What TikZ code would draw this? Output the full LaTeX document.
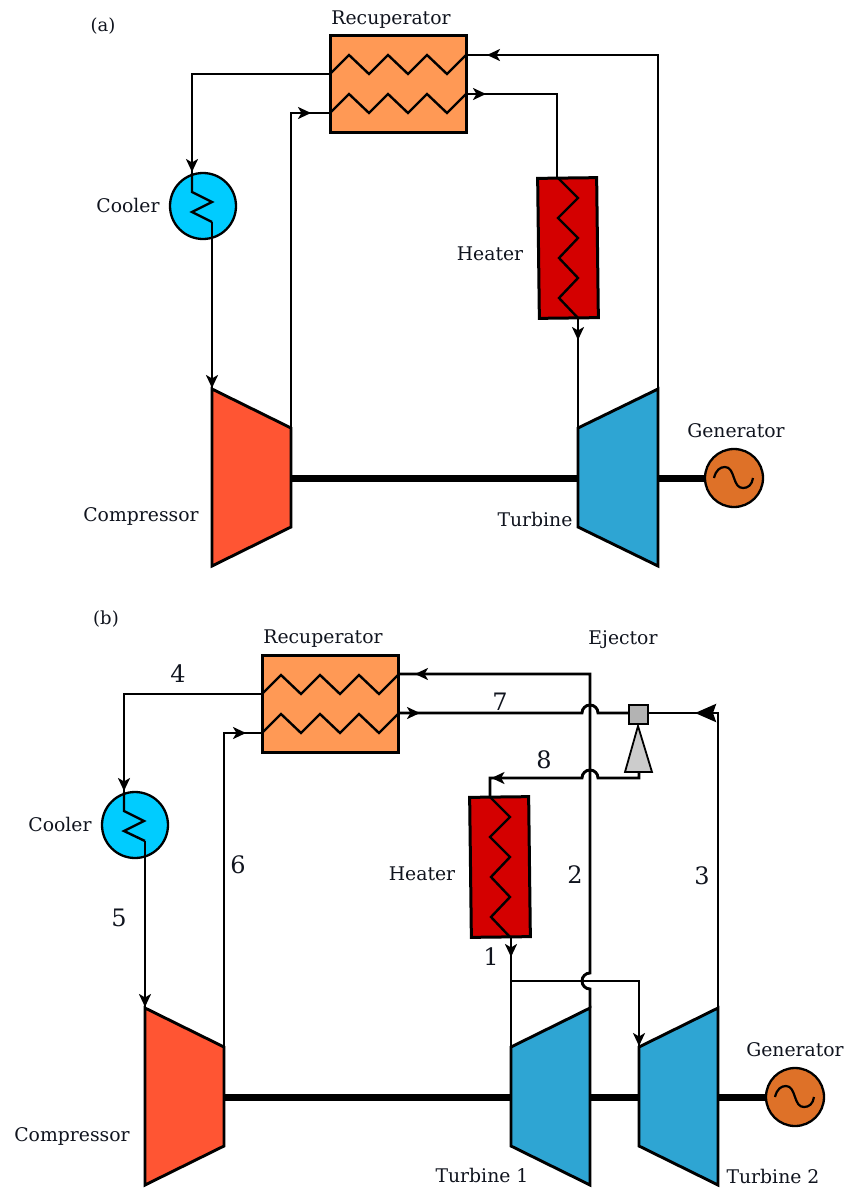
\documentclass[tikz,border=0pt]{standalone}
\usepackage{fontspec}
\setmainfont{DejaVu Serif}
\usetikzlibrary{arrows.meta,decorations.markings}
\definecolor{recup}{HTML}{FF9955}
\definecolor{heat}{HTML}{D40000}
\definecolor{cool}{HTML}{00CCFF}
\definecolor{comp}{HTML}{FF5533}
\definecolor{turb}{HTML}{2EA5D3}
\definecolor{gen}{HTML}{DE7128}
\definecolor{ejsq}{HTML}{B3B3B3}
\definecolor{ejtr}{HTML}{CCCCCC}
\definecolor{ink}{HTML}{10141E}
\tikzset{
 x=1pt,y=-1pt,
 lbl/.style={font=\fontsize{18.8}{20}\selectfont,inner sep=0pt,text=ink},
 tag/.style={font=\fontsize{18}{20}\selectfont,inner sep=0pt,text=ink},
 num/.style={font=\fontsize{24}{26}\selectfont,inner sep=0pt,text=ink},
 wire/.style={line width=2.9pt,line join=miter},
 box/.style={draw=black,line width=3pt,inner sep=0pt,outer sep=0pt,rectangle},
 recupbox/.style={box,fill=recup,minimum width=136pt,minimum height=97pt},
 heatbox/.style={box,fill=heat,minimum width=59pt,minimum height=140pt,rotate=0.7},
 coolc/.style={circle,draw=black,line width=2.3pt,fill=cool,minimum size=66pt,inner sep=0pt,outer sep=0pt},
 genc/.style={circle,draw=black,line width=2.3pt,fill=gen,minimum size=58pt,inner sep=0pt,outer sep=0pt},
 machine/.style={draw=black,line width=2.9pt,line join=miter},
 shaft/.style={line width=7pt},
 marr/.style={postaction={decorate},decoration={markings,mark=at position #1 with {\arrow{Stealth[length=13pt,width=12pt,inset=3.5pt]}}}},
 bigarr/.style={postaction={decorate},decoration={markings,mark=at position #1 with {\arrow{Stealth[length=21pt,width=18pt,inset=3pt]}}}},
 zig/.style={line width=2.4pt,line join=miter},
 ejsqb/.style={draw=black,line width=1.5pt,fill=ejsq,minimum size=19pt,inner sep=0pt,outer sep=0pt},
 wave/.style={line width=2.2pt},
}
% recuperator zigzags, #1 = left x, #2 = top y
\newcommand{\recupzig}[2]{%
 \foreach \yy in {39,78}{%
  \draw[zig] (#1,#2+\yy) -- ++(19,-19) -- ++(20,19) -- ++(19,-19) -- ++(20,19) -- ++(19,-19) -- ++(20,19) -- ++(19,-19);}}
% heater zigzag, #1 = left x, #2 = top y
\newcommand{\heatzig}[2]{%
 \draw[zig] (#1+20,#2) -- (#1+40,#2+20) -- (#1+20,#2+40) -- (#1+40,#2+60) -- (#1+21,#2+80) -- (#1+40,#2+100) -- (#1+21,#2+120) -- (#1+40,#2+140);}
% generator sine wave inside node #1
\newcommand{\genwave}[1]{%
 \begin{scope}[shift={(#1.center)}]
 \draw[wave] (-20,0) .. controls (-18,-8) and (-14,-11) .. (-9,-11) .. controls (-4,-11) and (-2,-6) .. (0,0) .. controls (2,6) and (4,10) .. (9,10) .. controls (14,10) and (18,7) .. (19,0);
 \end{scope}}
\begin{document}
\begin{tikzpicture}
\useasboundingbox (0,0) rectangle (850,1189);
% ---------- panel a ----------
\node[tag] (la) at (103,26) {(a)};
\coordinate (aRecHotIn) at (466,55);
\coordinate (aRecHotOut) at (330,74);
\coordinate (aRecColdIn) at (330,113);
\coordinate (aRecColdOut) at (466,94);
\coordinate (aHeatIn) at (557,178);
\coordinate (aHeatOut) at (578,318);
\coordinate (aCoolIn) at (192,173);
\coordinate (aCoolOut) at (212,222);
\coordinate (aCompIn) at (212,389);
\coordinate (aCompOut) at (291,428);
\coordinate (aTurbIn) at (578,428);
\coordinate (aTurbOut) at (658,389);
\coordinate (aCompS) at (291,478);
\coordinate (aTurbL) at (578,478);
\coordinate (aTurbR) at (658,478);
\node[recupbox] (ra) at (398,83.5) {};
\recupzig{330}{35}
\node[lbl] (tra) at (391,19.5) {Recuperator};
\node[heatbox] (ha) at (568,248) {};
\heatzig{538}{178}
\node[lbl] (tha) at (490,254) {Heater};
\node[coolc] (ca) at (203,206) {};
\node[lbl] (tca) at (128,205) {Cooler};
\node[genc] (ga) at (734,478) {};
\genwave{ga}
\node[lbl] (tga) at (736,431) {Generator};
\draw[machine,fill=comp] (aCompIn) -- (aCompOut) -- (291,527) -- (212,566) -- cycle;
\node[lbl] (tcoa) at (141,516) {Compressor};
\draw[machine,fill=turb] (aTurbIn) -- (aTurbOut) -- (658,566) -- (578,527) -- cycle;
\node[lbl] (tta) at (535,519) {Turbine};
\draw[shaft] (aCompS) -- (aTurbL);
\draw[shaft] (aTurbR) -- (ga.west);
\draw[wire,marr=505pt] (aTurbOut) -- (658,55) -- (aRecHotIn);
\draw[wire,marr=20pt] (aRecColdOut) -- (557,94) -- (aHeatIn);
\draw[wire,marr=22pt] (aHeatOut) -- (aTurbIn);
\draw[wire,marr=-1pt] (aRecHotOut) -- (192,74) -- (aCoolIn);
\draw[zig] (aCoolIn) -- (192,192) -- (212,202) -- (192,212) -- (aCoolOut);
\draw[wire,marr=-1pt] (aCoolOut) -- (aCompIn);
\draw[wire,marr=-19pt] (aCompOut) -- (291,113) -- (aRecColdIn);
% ---------- panel b ----------
\node[tag] (lb) at (106,619) {(b)};
\coordinate (bRecHotIn) at (398,674);
\coordinate (bRecHotOut) at (262,694);
\coordinate (bRecColdIn) at (262,733);
\coordinate (bRecColdOut) at (398,713);
\coordinate (bHeatIn) at (490,797);
\coordinate (bHeatOut) at (511,937);
\coordinate (bCoolIn) at (124,792);
\coordinate (bCoolOut) at (145,841);
\coordinate (bCompIn) at (145,1008);
\coordinate (bCompOut) at (224,1047);
\coordinate (bTaIn) at (511,1047);
\coordinate (bTaOut) at (590,1008);
\coordinate (bTbIn) at (639,1047);
\coordinate (bTbOut) at (718,1008);
\coordinate (bTee) at (511,981);
\coordinate (bCompS) at (224,1097);
\coordinate (bTaL) at (511,1097);
\coordinate (bTaR) at (590,1097);
\coordinate (bTbL) at (639,1097);
\coordinate (bTbR) at (718,1097);
\node[recupbox] (rb) at (330,703.5) {};
\recupzig{262}{655}
\node[lbl] (trb) at (323,638.5) {Recuperator};
\node[heatbox] (hb) at (500,867) {};
\heatzig{470}{797}
\node[lbl] (thb) at (422,874) {Heater};
\node[coolc] (cb) at (135,825) {};
\node[lbl] (tcb) at (60,824) {Cooler};
\node[genc] (gb) at (795,1097) {};
\genwave{gb}
\node[lbl] (tgb) at (795,1050) {Generator};
\draw[machine,fill=comp] (bCompIn) -- (bCompOut) -- (224,1146) -- (145,1185) -- cycle;
\node[lbl] (tcob) at (72,1136) {Compressor};
\draw[machine,fill=turb] (bTaIn) -- (bTaOut) -- (590,1185) -- (511,1146) -- cycle;
\node[lbl] (ttb1) at (482,1175) {Turbine 1};
\draw[machine,fill=turb] (bTbIn) -- (bTbOut) -- (718,1185) -- (639,1146) -- cycle;
\node[lbl] (ttb2) at (773,1176) {Turbine 2};
\draw[shaft] (bCompS) -- (bTaL);
\draw[shaft] (bTaR) -- (bTbL);
\draw[shaft] (bTbR) -- (gb.west);
\node[lbl] (tej) at (623,639.5) {Ejector};
\node[num] (n4) at (178,674) {4};
\node[num] (n7) at (500,702) {7};
\node[num] (n8) at (544,760) {8};
\node[num] (n6) at (238,865) {6};
\node[num] (n5) at (119,918) {5};
\node[num] (n2) at (575,875) {2};
\node[num] (n3) at (702,876) {3};
\node[num] (n1) at (491,957) {1};
% ejector
\node[ejsqb] (es) at (638.5,714.5) {};
\coordinate (eWest) at (629,713);
\coordinate (eEast) at (648,713);
\coordinate (eApex) at (638,726);
\coordinate (eL) at (625,772);
\coordinate (eR) at (652,772);
\coordinate (eOut) at (639,772);
\draw[draw=black,line width=1.8pt,fill=ejtr,line join=miter] (eApex) -- (eL) -- (eR) -- cycle;
% connectors
\draw[wire,marr=-17pt] (bTaOut) -- (590,989) arc[start angle=90,end angle=270,radius=8] -- (590,674) -- (bRecHotIn);
\draw[wire,marr=22pt] (bRecColdOut) -- (582,713) arc[start angle=180,end angle=360,radius=8] -- (eWest);
\draw[wire,bigarr=-47pt] (bTbOut) -- (718,713) -- (eEast);
\draw[wire,marr=-20.5pt] (eOut) -- (639,778) -- (598,778) arc[start angle=360,end angle=180,radius=8] -- (490,778) -- (bHeatIn);
\draw[wire,marr=20pt] (bHeatOut) -- (bTaIn);
\draw[wire,marr=-1pt] (bTee) -- (639,981) -- (bTbIn);
\draw[wire,marr=-1pt] (bRecHotOut) -- (124,694) -- (bCoolIn);
\draw[zig] (bCoolIn) -- (124,811) -- (144,821) -- (124,831) -- (bCoolOut);
\draw[wire,marr=-1pt] (bCoolOut) -- (bCompIn);
\draw[wire,marr=-16pt] (bCompOut) -- (224,733) -- (bRecColdIn);
\end{tikzpicture}
\end{document}
